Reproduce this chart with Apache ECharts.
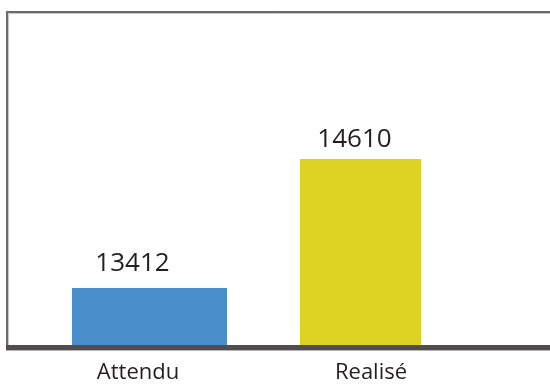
<!DOCTYPE html>
<html>
<head>
<meta charset="utf-8">
<script src="https://cdn.jsdelivr.net/npm/echarts@6/dist/echarts.min.js"></script>
<style>
  html, body { margin: 0; padding: 0; background: #fff; }
  #chart { width: 550px; height: 385px; }
</style>
</head>
<body>
<div id="chart"></div>
<script>
// Chart data
const categories = ['Attendu', 'Realisé'];
const expectedValues = [13412, '-'];
const achievedValues = ['-', 14610];

const chart = echarts.init(document.getElementById('chart'), null, { renderer: 'canvas' });

const textColor = '#231f20';
const fontFamily = '"Open Sans", "Noto Sans", sans-serif';

const option = {
  animation: false,
  backgroundColor: '#ffffff',
  grid: { left: 44, right: 84, top: 9.4, bottom: 37.5, containLabel: false },
  xAxis: [
    {
      type: 'category',
      data: [
        { value: categories[0], textStyle: { padding: [0, 23, 0, 0] } },
        { value: categories[1], textStyle: { padding: [0, 0, 0, 21] } }
      ],
      axisLine: { show: false },
      axisTick: { show: false },
      axisLabel: { color: textColor, fontSize: 22, fontFamily: fontFamily, margin: 14 }
    },
    {
      type: 'category',
      data: categories,
      show: false
    }
  ],
  yAxis: {
    type: 'value',
    min: 12860,
    max: 16000,
    show: false,
    splitLine: { show: false }
  },
  series: [
    {
      name: categories[0],
      type: 'bar',
      xAxisIndex: 0,
      barWidth: 155,
      data: expectedValues,
      itemStyle: { color: '#4a8ecc' },
      label: {
        show: true, position: 'top', distance: 11, offset: [-17, 0],
        color: textColor, fontSize: 26, fontFamily: fontFamily
      }
    },
    {
      name: categories[1],
      type: 'bar',
      xAxisIndex: 1,
      barWidth: 121,
      data: achievedValues,
      itemStyle: { color: '#ddd322' },
      label: {
        show: true, position: 'top', distance: 6, offset: [-6, 0],
        color: textColor, fontSize: 26, fontFamily: fontFamily
      }
    }
  ],
  graphic: [
    // frame: left and top borders
    { type: 'polyline', z: 10, shape: { points: [[7, 351], [7, 12], [550, 12]] },
      style: { stroke: '#6b6b6b', lineWidth: 2, fill: null } },
    { type: 'polyline', z: 10, shape: { points: [[8.5, 351], [8.5, 13.5], [550, 13.5]] },
      style: { stroke: '#c8c8c8', lineWidth: 1, fill: null } },
    // baseline
    { type: 'line', z: 10, shape: { x1: 6, y1: 347.5, x2: 550, y2: 347.5 },
      style: { stroke: '#534c4f', lineWidth: 5 } },
    { type: 'line', z: 10, shape: { x1: 6, y1: 350.5, x2: 550, y2: 350.5 },
      style: { stroke: '#b4b4b4', lineWidth: 1 } }
  ]
};

chart.setOption(option);
</script>
</body>
</html>
